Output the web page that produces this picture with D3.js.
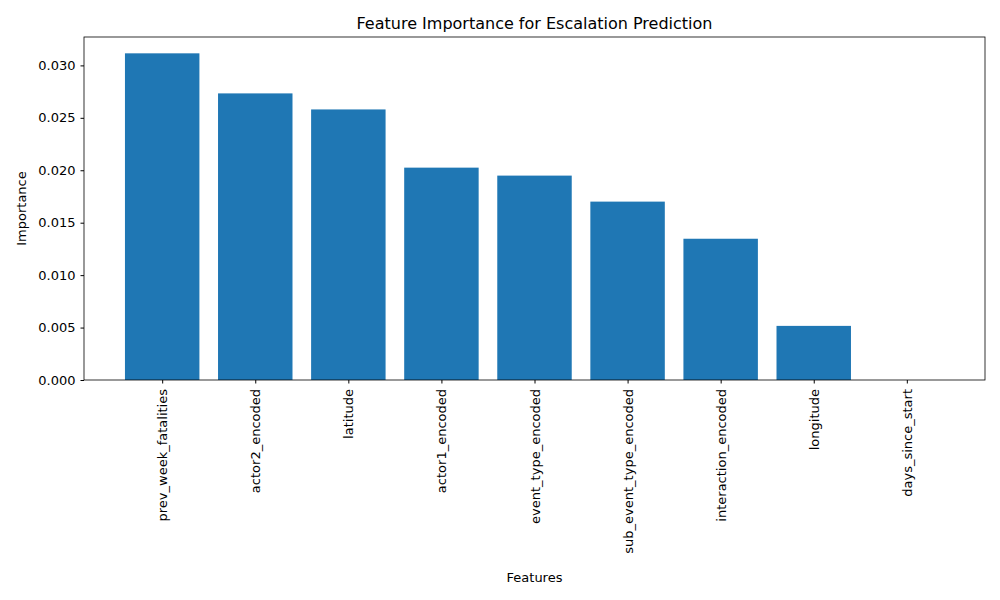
<!DOCTYPE html>
<html lang="en">
<head>
<meta charset="UTF-8">
<title>Feature Importance for Escalation Prediction</title>
<script src="https://d3js.org/d3.v7.min.js"></script>
<style>
  body { margin: 0; background: #fff; }
  text { font-family: "DejaVu Sans", sans-serif; fill: #000; }
</style>
</head>
<body>
<svg width="1000" height="600"></svg>
<script>
// data
var features = ["prev_week_fatalities", "actor2_encoded", "latitude", "actor1_encoded",
    "event_type_encoded", "sub_event_type_encoded", "interaction_encoded", "longitude", "days_since_start"];
var importance = [0.03115, 0.02733, 0.0258, 0.02025, 0.01949, 0.01701, 0.01347, 0.00516, 0.0];
var yTicks = [0, 0.005, 0.010, 0.015, 0.020, 0.025, 0.030];

var plotL = 84, plotR = 985, plotT = 37, plotB = 380;
var svg = d3.select("svg");

// matplotlib-like x limits: bars of width 0.8 plus 5% margin
var x = d3.scaleLinear().domain([-0.84, features.length - 1 + 0.84]).range([plotL, plotR]);
var y = d3.scaleLinear().domain([0, d3.max(importance) * 1.05]).range([plotB, plotT]);
var barW = x(0.8) - x(0);

svg.selectAll("rect.bar")
    .data(importance)
    .enter().append("rect")
    .attr("class", "bar")
    .attr("x", function(d, i) { return x(i) - barW / 2; })
    .attr("y", function(d) { return y(d); })
    .attr("width", barW)
    .attr("height", function(d) { return plotB - y(d); })
    .attr("fill", "#1f77b4");

// y axis
var yAxis = svg.append("g")
    .attr("transform", "translate(" + plotL + ",0)")
    .call(d3.axisLeft(y).tickValues(yTicks).tickFormat(d3.format(".3f")).tickSize(3.5).tickPadding(5));
yAxis.select(".domain").remove();
yAxis.selectAll("text").style("font-size", "13px").style("font-family", "DejaVu Sans");

// x axis with rotated labels
var xAxis = svg.append("g")
    .attr("transform", "translate(0," + plotB + ")")
    .call(d3.axisBottom(x).tickValues(d3.range(features.length))
        .tickFormat(function(i) { return features[i]; }).tickSize(3.5));
xAxis.select(".domain").remove();
xAxis.selectAll("text")
    .style("font-size", "13px").style("font-family", "DejaVu Sans")
    .attr("transform", "rotate(-90)")
    .attr("x", -9).attr("y", 0).attr("dy", "0.35em")
    .style("text-anchor", "end");

// frame
svg.append("rect")
    .attr("x", plotL).attr("y", plotT)
    .attr("width", plotR - plotL).attr("height", plotB - plotT)
    .attr("fill", "none").attr("stroke", "#000").attr("stroke-width", 0.8);

svg.append("text").attr("x", (plotL + plotR) / 2).attr("y", 29)
    .attr("text-anchor", "middle").style("font-size", "16px")
    .text("Feature Importance for Escalation Prediction");
svg.append("text").attr("x", (plotL + plotR) / 2).attr("y", 582)
    .attr("text-anchor", "middle").style("font-size", "13px").text("Features");
svg.append("text")
    .attr("transform", "translate(26," + (plotT + plotB) / 2 + ") rotate(-90)")
    .attr("text-anchor", "middle").style("font-size", "13px").text("Importance");
</script>
</body>
</html>
